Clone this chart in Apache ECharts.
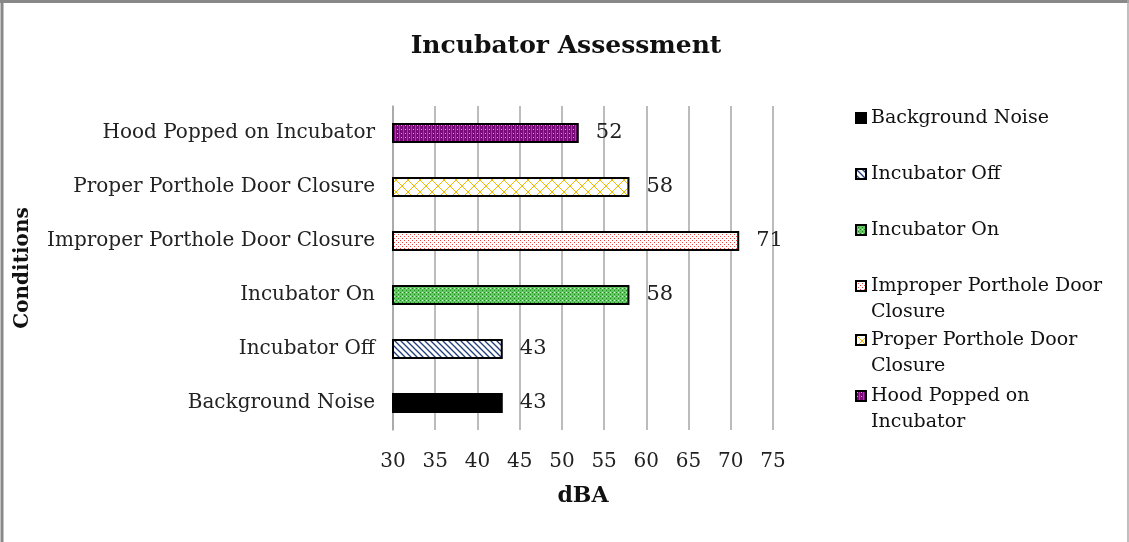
<!DOCTYPE html>
<html>
<head>
<meta charset="utf-8">
<script src="https://cdn.jsdelivr.net/npm/echarts@6/dist/echarts.min.js"></script>
<style>
  html, body { margin: 0; padding: 0; background: #fff; }
  #chart { width: 1129px; height: 542px; }
</style>
</head>
<body>
<div id="chart"></div>
<script>
// data
const conditions = ['Background Noise', 'Incubator Off', 'Incubator On',
  'Improper Porthole Door Closure', 'Proper Porthole Door Closure', 'Hood Popped on Incubator']
const dbaValues = [43, 43, 58, 71, 58, 52]
const legendLines = ['Background Noise', 'Incubator Off', 'Incubator On',
  'Improper Porthole Door\nClosure', 'Proper Porthole Door\nClosure', 'Hood Popped on\nIncubator']
const axisTicks = [30, 35, 40, 45, 50, 55, 60, 65, 70, 75]

const serif = 'DejaVu Serif'

// small canvas patterns to fake the office-style fills
function makePattern(size, bg, draw) {
  const c = document.createElement('canvas')
  c.width = size; c.height = size
  const ctx = c.getContext('2d')
  ctx.fillStyle = bg
  ctx.fillRect(0, 0, size, size)
  draw(ctx)
  return { image: c, repeat: 'repeat' }
}

const fills = [
  '#000000',
  // navy diagonal stripes
  makePattern(6, '#ffffff', ctx => {
    ctx.strokeStyle = '#1f3b7a'; ctx.lineWidth = 1.3
    ctx.beginPath()
    ctx.moveTo(-1, -1); ctx.lineTo(7, 7)
    ctx.moveTo(-4, 2); ctx.lineTo(4, 10)
    ctx.moveTo(2, -4); ctx.lineTo(10, 4)
    ctx.stroke()
  }),
  // green with dots
  makePattern(4, '#62c862', ctx => {
    ctx.fillStyle = '#1e8a1e'
    ctx.fillRect(0, 0, 1, 1); ctx.fillRect(2, 2, 1, 1)
    ctx.fillStyle = '#c8f0c8'
    ctx.fillRect(2, 0, 1, 1)
  }),
  // sparse red dots
  makePattern(4, '#ffffff', ctx => {
    ctx.fillStyle = '#f04040'
    ctx.fillRect(0, 0, 1, 1); ctx.fillRect(2, 2, 1, 1)
  }),
  // yellow crosshatch
  makePattern(12, '#ffffff', ctx => {
    ctx.strokeStyle = '#f5b800'; ctx.lineWidth = 1
    ctx.beginPath()
    ctx.moveTo(0, 0); ctx.lineTo(12, 12)
    ctx.moveTo(12, 0); ctx.lineTo(0, 12)
    ctx.stroke()
  }),
  // purple with light dots
  makePattern(4, '#7a0a7a', ctx => {
    ctx.fillStyle = '#d9a0d9'
    ctx.fillRect(1, 1, 1, 1)
    ctx.fillStyle = '#a040a0'
    ctx.fillRect(3, 0, 1, 4)
  })
]

const myChart = echarts.init(document.getElementById('chart'))

// one series per condition so each gets its own legend entry
const series = conditions.map((name, i) => ({
  name: name,
  type: 'bar',
  stack: 'all',
  barWidth: 20,
  data: conditions.map((_, j) => (j === i ? dbaValues[i] : '-')),
  itemStyle: { color: fills[i], borderColor: '#000', borderWidth: 2 },
  label: {
    show: true,
    position: 'right',
    distance: 17,
    color: '#222',
    fontFamily: serif,
    fontSize: 21
  }
}))

// centre of the first text line of each legend entry
const legendFirstLine = [113, 169, 225, 281, 335, 391]
const legends = conditions.map((name, i) => {
  const twoLines = legendLines[i].includes('\n')
  return {
    data: [name],
    orient: 'vertical',
    left: 850,
    top: legendFirstLine[i] - 13 - (twoLines ? 26 : 0),
    itemWidth: 10,
    itemHeight: 10,
    itemGap: 0,
    icon: 'rect',
    // a blank first line keeps the icon beside the first real line
    formatter: () => (twoLines ? ' \n' + legendLines[i] : legendLines[i]),
    textStyle: {
      fontFamily: serif,
      fontSize: 19,
      color: '#111',
      lineHeight: 26
    }
  }
})

const option = {
  backgroundColor: '#fff',
  animation: false,
  title: {
    text: 'Incubator Assessment',
    left: 561,
    textAlign: 'center',
    top: 29,
    textStyle: { fontFamily: serif, fontSize: 25, fontWeight: 'bold', color: '#111' }
  },
  legend: legends,
  grid: { left: 393, right: 356, top: 106, bottom: 112 },
  xAxis: {
    type: 'value',
    min: 30,
    max: 75,
    interval: 5,
    name: 'dBA',
    nameLocation: 'middle',
    nameGap: 55,
    nameTextStyle: { fontFamily: serif, fontSize: 22, fontWeight: 'bold', color: '#111' },
    axisLine: { show: false },
    axisTick: { show: false },
    axisLabel: {
      margin: 22,
      fontFamily: serif,
      fontSize: 20,
      color: '#222',
      formatter: v => (axisTicks.includes(v) ? String(v) : '')
    },
    splitLine: { show: true, lineStyle: { color: '#a6a6a6', width: 1.5 } }
  },
  yAxis: {
    type: 'category',
    data: conditions,
    name: 'Conditions',
    nameLocation: 'middle',
    nameGap: 360,
    nameRotate: 90,
    nameTextStyle: { fontFamily: serif, fontSize: 20, fontWeight: 'bold', color: '#111' },
    axisLine: { show: true, lineStyle: { color: '#a6a6a6', width: 1.5 } },
    axisTick: { show: false },
    axisLabel: { margin: 18, fontFamily: serif, fontSize: 20, color: '#222' }
  },
  series: series,
  graphic: [
    // frame around the figure (top, left, right edges)
    { type: 'line', shape: { x1: 0, y1: 1.5, x2: 1129, y2: 1.5 }, style: { stroke: '#888', lineWidth: 3 } },
    { type: 'line', shape: { x1: 2, y1: 0, x2: 2, y2: 542 }, style: { stroke: '#888', lineWidth: 3 } },
    { type: 'line', shape: { x1: 1128, y1: 0, x2: 1128, y2: 542 }, style: { stroke: '#aaa', lineWidth: 1.5 } }
  ]
}

myChart.setOption(option)
window.addEventListener('resize', () => myChart.resize())
</script>
</body>
</html>
